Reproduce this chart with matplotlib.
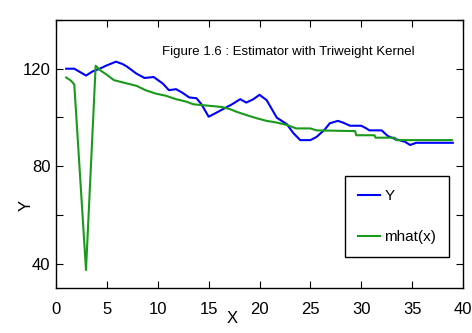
import matplotlib
matplotlib.use("Agg")
import matplotlib.pyplot as plt

plt.rcParams['font.family'] = ['Liberation Sans', 'DejaVu Sans']

x_y = [1, 1.8, 2.95, 3.6, 4.25, 4.9, 5.9, 6.55, 7.0, 7.9, 8.7, 9.6, 10.5, 11.1,
       11.8, 12.4, 13.1, 13.8, 14.3, 15.0, 15.6, 16.4, 17.3, 18.1, 18.7, 19.4,
       20.0, 20.7, 21.7, 22.7, 23.3, 24.0, 25.0, 25.6, 26.4, 26.9, 27.7, 28.2,
       28.9, 30.0, 30.5, 30.8, 32.0, 32.6, 33.3, 34.3, 34.8, 35.4, 39.0]
y_y = [120, 120, 117.2, 118.9, 119.9, 121.2, 122.9, 121.9, 120.8, 118, 116.2,
       116.6, 113.9, 111.2, 111.6, 110.2, 108.2, 107.9, 105.4, 100.3, 101.6,
       103.4, 105.4, 107.5, 106.1, 107.5, 109.3, 107.1, 99.9, 97.2, 93.7, 90.7,
       90.7, 92.0, 95.0, 97.6, 98.6, 97.9, 96.6, 96.6, 95.5, 94.7, 94.7, 92.4,
       91.2, 90.0, 88.7, 89.6, 89.6]

# triweight kernel estimate mhat(x)
x_m = [1, 1.5, 1.8, 2.95, 3.9, 4.4, 4.9, 5.7, 6.55, 7.9, 8.8, 9.8, 10.8, 11.8,
       12.8, 13.5, 16.3, 17.1, 17.7, 18.7, 19.7, 20.7, 21.7, 22.7, 23.6, 25.0,
       25.6, 29.4, 29.5, 31.3, 31.4, 33.3, 33.4, 38.9]
y_m = [116.4, 115, 113.5, 37.4, 121.2, 119.2, 117.8, 115.3, 114.4, 113, 111.2,
       109.8, 108.9, 107.5, 106.5, 105.4, 104.3, 103.4, 102.4, 101, 99.7, 98.6,
       97.9, 96.9, 95.5, 95.5, 94.7, 94.4, 92.7, 92.7, 91.7, 91.7, 90.7, 90.7]

xticks = list(range(0, 41, 5))
yticks = [40, 60, 80, 100, 120, 140]
ylabels = ['40', '', '80', '', '120', '']

fig = plt.figure(figsize=(4.72, 3.33), dpi=100)
ax = fig.add_axes([0.1186, 0.135, 0.8624, 0.805])

ax.plot(x_y, y_y, color='#0000ff', lw=1.5, label='Y')
ax.plot(x_m, y_m, color='#1a9a1a', lw=1.5, label='mhat(x)')

ax.set_xlim(0, 40)
ax.set_ylim(30, 140)
ax.set_xticks(xticks)
ax.set_yticks(yticks)
ax.set_yticklabels(ylabels)
ax.tick_params(direction='in', length=5, top=True, right=True, labelsize=12)
ax.tick_params(axis='x', pad=10)
ax.tick_params(axis='y', pad=4)
for s in ax.spines.values():
    s.set_linewidth(1.0)

ax.set_xlabel('X', fontsize=12)
ax.xaxis.set_label_coords(0.432, -0.085)
ax.set_ylabel('Y', fontsize=12)
ax.yaxis.set_label_coords(-0.055, 0.31)

ax.text(0.57, 0.88, 'Figure 1.6 : Estimator with Triweight Kernel',
        transform=ax.transAxes, ha='center', va='center', fontsize=9.5)

leg = ax.legend(loc='lower right', bbox_to_anchor=(0.966, 0.116),
                borderaxespad=0, fancybox=False, edgecolor='black',
                fontsize=11, labelspacing=1.75, handlelength=1.4,
                handletextpad=0.3, borderpad=0.85, framealpha=1)
leg.get_frame().set_linewidth(1.0)

fig.savefig('out.png', dpi=100)
